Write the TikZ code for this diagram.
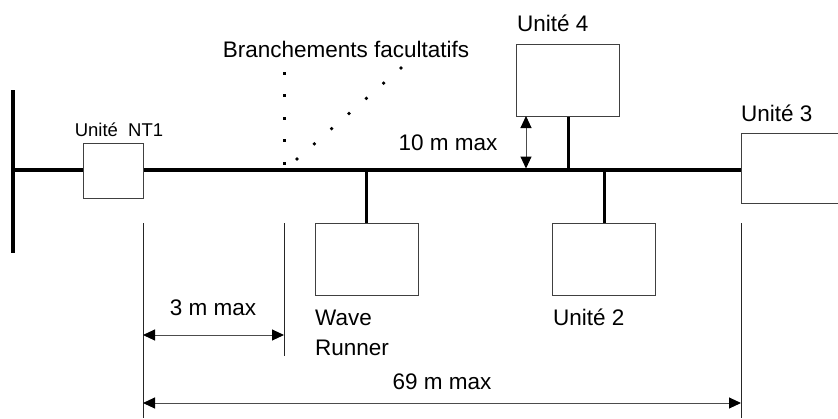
\documentclass[tikz,border=0pt]{standalone}
\usepackage{fontspec}
\setmainfont{Liberation Sans}
\usetikzlibrary{arrows.meta}
\begin{document}
\begin{tikzpicture}[x=1pt,y=-1pt,
  unitbox/.style={draw=black!75,line width=1pt,fill=white,inner sep=0pt,
    minimum width=103pt,minimum height=72pt},
  bus/.style={line width=3.5pt},
  stub/.style={line width=3pt},
  guide/.style={line width=1pt,black!85},
  dim/.style={line width=1pt,black!70,
    {Triangle[length=12pt,width=11pt,black]}-{Triangle[length=12pt,width=11pt,black]}},
  lbl/.style={font=\fontsize{22.5}{30}\selectfont,inner sep=0pt},
  smalllbl/.style={font=\fontsize{18.5}{22}\selectfont,inner sep=0pt},
  dotmark/.style={fill=black}]
\useasboundingbox (0,0) rectangle (838,418);

% units on the bus
\node[unitbox,minimum width=60pt,minimum height=55pt] (nt1) at (113,170.5) {};
\node[unitbox] (wr) at (366.5,259) {};
\node[unitbox] (u2) at (604,259) {};
\node[unitbox] (u4) at (568,80) {};
\node[unitbox,minimum width=120pt,minimum height=70pt] (u3) at (801,168) {};

% terminal bar and bus
\coordinate (bt) at (13,90);
\coordinate (bb) at (13,253);
\coordinate (b0) at (13,170);
\draw[line width=4pt] (bt) -- (bb);
\draw[bus] (b0) -- (nt1.west |- b0);
\draw[bus] (nt1.east |- b0) -- (u3.west |- b0);

% stubs to the units
\draw[stub] (wr.north |- b0) -- (wr.north);
\draw[stub] (u2.north |- b0) -- (u2.north);
\draw[stub] (u4.south |- b0) -- (u4.south);

% guide lines for the dimensions
\coordinate (g1t) at (143,223);
\coordinate (g1b) at (143,418);
\coordinate (g2t) at (284,223);
\coordinate (g2b) at (284,356);
\coordinate (g3t) at (741,223);
\coordinate (g3b) at (741,418);
\draw[guide] (g1t) -- (g1b);
\draw[guide] (g2t) -- (g2b);
\draw[guide] (g3t) -- (g3b);

% dimensions
\coordinate (d3a) at (143,335);
\coordinate (d3b) at (284,335);
\draw[dim] (d3a) -- (d3b);
\coordinate (d69a) at (143,403);
\coordinate (d69b) at (741,403);
\draw[dim] (d69a) -- (d69b);
\coordinate (d10a) at (526,116);
\coordinate (d10b) at (526,168.5);
\draw[dim] (d10a) -- (d10b);

% optional branches, dotted
\foreach \i in {0,...,4}
  \fill[dotmark] (282.5,71.5+22.5*\i) rectangle ++(3,3);
\foreach \i in {0,...,6}
  \fill[dotmark] ({297+\i*104/6},{159-\i*91/6}) circle (1.9pt);

% labels
\node[smalllbl] (lnt1) at (119,130) {Unité~~NT1};
\node[lbl] (lbr) at (346,49) {Branchements facultatifs};
\node[lbl,anchor=west] (lu4) at (517,23) {Unité 4};
\node[lbl,anchor=west] (lu3) at (741,113) {Unité 3};
\node[lbl] (l10) at (448,143) {10 m max};
\node[lbl] (l3) at (213,308) {3 m max};
\node[lbl,anchor=west,align=left] (lwr) at (315,333) {Wave\\Runner};
\node[lbl,anchor=west] (lu2) at (553,317) {Unité 2};
\node[lbl] (l69) at (442,382) {69 m max};
\end{tikzpicture}
\end{document}
